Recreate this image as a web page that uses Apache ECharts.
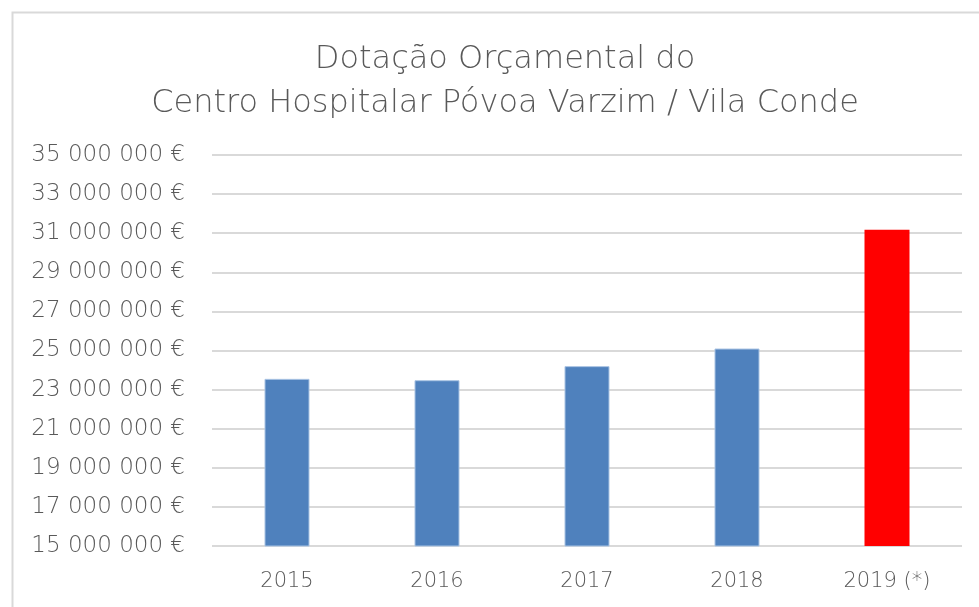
<!DOCTYPE html>
<html>
<head>
    <meta charset="utf-8">
    <title>Dotação Orçamental</title>
    <script src="https://cdn.jsdelivr.net/npm/echarts@6/dist/echarts.min.js"></script>
    <style>
        body { margin: 0; background: #fff; }
    </style>
</head>
<body>
<div id="main" style="width: 979px;height:607px;"></div>
<script type="text/javascript">
    // dados
    var anos = ['2015', '2016', '2017', '2018', '2019 (*)'];
    var dotacao = [23550000, 23480000, 24200000, 25100000, 31180000];
    var cores = ['#4F81BD', '#4F81BD', '#4F81BD', '#4F81BD', '#FF0000'];

    var myChart = echarts.init(document.getElementById('main'));

    function formatEuro(v) {
        return String(v).replace(/\B(?=(\d{3})+(?!\d))/g, ' ') + ' €';
    }

    var option = {
        backgroundColor: '#fff',
        animation: false,
        graphic: [{
            type: 'rect',
            shape: { x: 12.5, y: 12.5, width: 1000, height: 700 },
            style: { fill: 'none', stroke: '#d9d9d9', lineWidth: 2 },
            z: -1
        }],
        title: {
            text: 'Dotação Orçamental do\nCentro Hospitalar Póvoa Varzim / Vila Conde',
            left: 500,
            textAlign: 'center',
            top: 33,
            textStyle: {
                fontFamily: 'DejaVu Sans',
                fontWeight: 200,
                fontSize: 32,
                lineHeight: 44,
                color: '#595959'
            }
        },
        grid: {
            left: 212,
            right: 17,
            top: 155,
            bottom: 61
        },
        xAxis: {
            type: 'category',
            data: anos,
            axisLine: { show: false },
            axisTick: { show: false },
            axisLabel: {
                margin: 25,
                fontFamily: 'DejaVu Sans',
                fontWeight: 200,
                fontSize: 21,
                color: '#595959'
            }
        },
        yAxis: {
            type: 'value',
            min: 15000000,
            max: 35000000,
            interval: 2000000,
            axisLine: { show: false },
            axisTick: { show: false },
            splitLine: { lineStyle: { color: '#d9d9d9', width: 2 } },
            axisLabel: {
                margin: 27,
                fontFamily: 'DejaVu Sans',
                fontWeight: 200,
                fontSize: 23,
                color: '#595959',
                formatter: formatEuro
            }
        },
        series: [{
            type: 'bar',
            barWidth: 45,
            data: dotacao.map(function (v, i) {
                return {
                    value: v,
                    itemStyle: {
                        color: cores[i],
                        borderColor: i < 4 ? '#a9c3e3' : cores[i],
                        borderWidth: i < 4 ? 1 : 0
                    }
                };
            })
        }]
    };

    myChart.setOption(option);
</script>
</body>
</html>
